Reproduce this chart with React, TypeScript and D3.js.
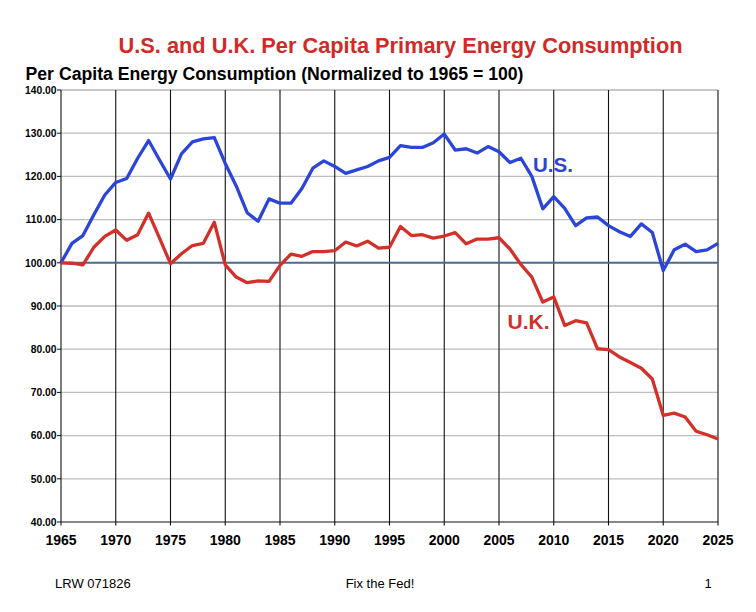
import React from "react";
import * as d3 from "d3";

const years: number[] = d3.range(1965, 2026);

const usValues: number[] = [
  100.0, 104.5, 106.3, 111.1, 115.7, 118.6, 119.5, 124.2, 128.3, 123.8,
  119.4, 125.2, 128.0, 128.7, 129.0, 123.0, 117.8, 111.6, 109.6, 114.8,
  113.8, 113.8, 117.2, 121.9, 123.6, 122.3, 120.7, 121.5, 122.3, 123.6,
  124.4, 127.1, 126.7, 126.7, 127.8, 129.8, 126.1, 126.4, 125.4, 126.9,
  125.7, 123.2, 124.2, 120.0, 112.5, 115.3, 112.6, 108.6, 110.4, 110.6,
  108.6, 107.2, 106.1, 109.0, 107.0, 98.2, 103.0, 104.3, 102.6, 103.0,
  104.5,
];

const ukValues: number[] = [
  100.0, 99.9, 99.5, 103.6, 106.1, 107.6, 105.2, 106.5, 111.5, 105.7,
  99.8, 102.1, 104.0, 104.5, 109.4, 99.5, 96.7, 95.4, 95.8, 95.7,
  99.4, 102.0, 101.5, 102.6, 102.6, 102.8, 104.8, 103.9, 105.0, 103.4,
  103.6, 108.4, 106.3, 106.5, 105.7, 106.2, 107.0, 104.4, 105.5, 105.5,
  105.8, 103.2, 99.6, 96.7, 90.9, 92.1, 85.5, 86.6, 86.1, 80.1,
  79.9, 78.2, 76.9, 75.6, 73.1, 64.7, 65.2, 64.3, 61.0, 60.2,
  59.2,
];

const yTicks: number[] = [40, 50, 60, 70, 80, 90, 100, 110, 120, 130, 140];
const xTicks: number[] = d3.range(1965, 2026, 5);

const titleText = "U.S. and U.K. Per Capita Primary Energy Consumption";
const subtitleText = "Per Capita Energy Consumption (Normalized to 1965 = 100)";
const footerLeft = "LRW 071826";
const footerCenter = "Fix the Fed!";
const footerRight = "1";

const W = 756;
const H = 612;
const FONT = "'Liberation Sans', Arial, Helvetica, sans-serif";

export default function App() {
  const x = d3.scaleLinear().domain([1965, 2025]).range([61, 718]);
  const y = d3.scaleLinear().domain([40, 140]).range([522, 90]);

  const line = d3
    .line<number>()
    .x((_, i) => x(years[i]))
    .y((d) => y(d));

  return (
    <div style={{ position: "absolute", left: 0, top: 0 }}>
      <svg width={W} height={H} style={{ display: "block", background: "#fff" }}>
        {/* title */}
        <text
          x={118.5}
          y={52.7}
          fontFamily={FONT}
          fontWeight="bold"
          fontSize={21.5}
          fill="#cf2b27"
          textLength={564}
          lengthAdjust="spacingAndGlyphs"
        >
          {titleText}
        </text>
        <text
          x={25.5}
          y={80}
          fontFamily={FONT}
          fontWeight="bold"
          fontSize={17.5}
          fill="#000"
          textLength={498}
          lengthAdjust="spacingAndGlyphs"
        >
          {subtitleText}
        </text>

        {/* horizontal grid */}
        {yTicks.map((t) =>
          t === 100 || t === 40 ? null : (
            <line
              key={"h" + t}
              x1={x(1965)}
              x2={x(2025)}
              y1={y(t)}
              y2={y(t)}
              stroke={t === 140 ? "#c8c8c8" : "#bdbdbd"}
              strokeWidth={t === 140 ? 2.2 : 1.3}
            />
          )
        )}
        {/* vertical grid */}
        {xTicks.map((t) => (
          <line
            key={"v" + t}
            x1={x(t)}
            x2={x(t)}
            y1={y(140)}
            y2={y(40) + 3.5}
            stroke="#111"
            strokeWidth={1.1}
          />
        ))}
        {/* bottom axis */}
        <line x1={x(1965)} x2={x(2025)} y1={y(40)} y2={y(40)} stroke="#111" strokeWidth={1.1} />
        {/* y ticks & labels */}
        {yTicks.map((t) => (
          <g key={"yt" + t}>
            <line x1={57} x2={x(1965)} y1={y(t)} y2={y(t)} stroke="#111" strokeWidth={1} />
            <text
              x={56.5}
              y={y(t) + 3.7}
              textAnchor="end"
              fontFamily={FONT}
              fontWeight="bold"
              fontSize={10.3}
              fill="#000"
            >
              {t.toFixed(2)}
            </text>
          </g>
        ))}
        {/* x labels */}
        {xTicks.map((t) => (
          <text
            key={"xl" + t}
            x={x(t)}
            y={545}
            textAnchor="middle"
            fontFamily={FONT}
            fontWeight="bold"
            fontSize={14}
            fill="#000"
          >
            {t}
          </text>
        ))}
        {/* 100 reference line */}
        <line x1={x(1965)} x2={x(2025)} y1={y(100)} y2={y(100)} stroke="#4a6b8c" strokeWidth={2} />

        {/* series */}
        <path d={line(usValues) || ""} fill="none" stroke="#2b45d8" strokeWidth={3.3} strokeLinejoin="round" />
        <path d={line(ukValues) || ""} fill="none" stroke="#d3302a" strokeWidth={3.3} strokeLinejoin="round" />

        {/* series labels */}
        <text x={533} y={172} fontFamily={FONT} fontWeight="bold" fontSize={20.5} fill="#2b45d8">
          U.S.
        </text>
        <text x={507.5} y={328.5} fontFamily={FONT} fontWeight="bold" fontSize={21} fill="#d3302a">
          U.K.
        </text>

        {/* footer */}
        <text x={55} y={588.3} fontFamily={FONT} fontSize={13} fill="#000">
          {footerLeft}
        </text>
        <text x={380} y={588.3} textAnchor="middle" fontFamily={FONT} fontSize={13} fill="#000">
          {footerCenter}
        </text>
        <text x={708} y={588.3} textAnchor="middle" fontFamily={FONT} fontSize={13} fill="#000">
          {footerRight}
        </text>
      </svg>
    </div>
  );
}
